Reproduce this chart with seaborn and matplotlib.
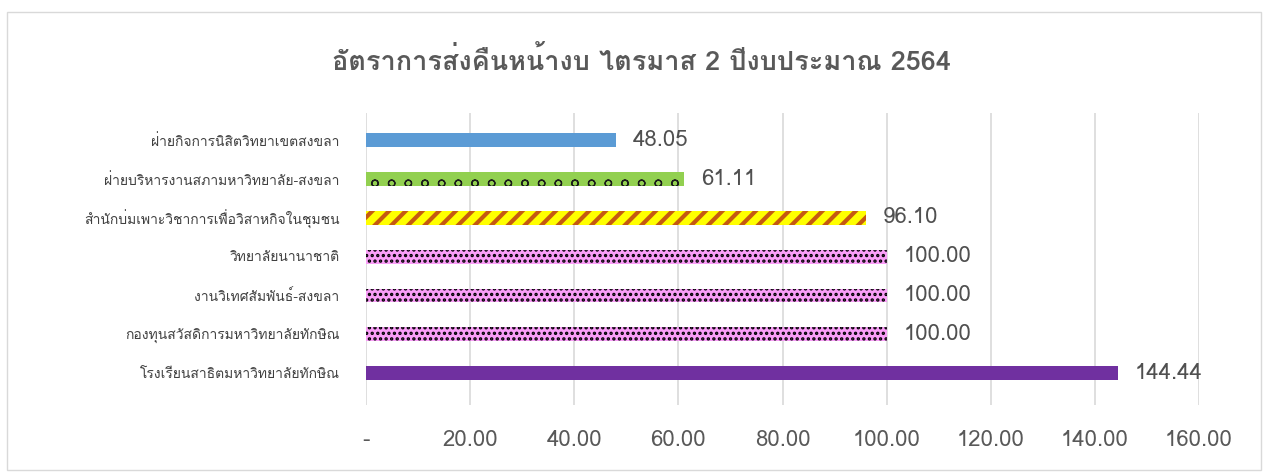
import numpy as np
import pandas as pd
import matplotlib
matplotlib.use('Agg')
import matplotlib.pyplot as plt
import seaborn as sns
from matplotlib import font_manager, ft2font

# Data
categories = ['ฝ่ายกิจการนิสิตวิทยาเขตสงขลา',
              'ฝ่ายบริหารงานสภามหาวิทยาลัย-สงขลา',
              'สำนักบ่มเพาะวิชาการเพื่อวิสาหกิจในชุมชน',
              'วิทยาลัยนานาชาติ',
              'งานวิเทศสัมพันธ์-สงขลา',
              'กองทุนสวัสดิการมหาวิทยาลัยทักษิณ',
              'โรงเรียนสาธิตมหาวิทยาลัยทักษิณ']
values = [48.05, 61.11, 96.10, 100.00, 100.00, 100.00, 144.44]
tick_values = [0, 20, 40, 60, 80, 100, 120, 140, 160]
tick_labels = ['-', '20.00', '40.00', '60.00', '80.00', '100.00', '120.00', '140.00', '160.00']
title = 'อัตราการส่งคืนหน้างบ ไตรมาส 2 ปีงบประมาณ 2564'

# Bar styles (face colour, hatch, hatch colour, hatch width)
faces = ['#5B9BD5', '#92D050', '#FFFF00', '#FA9EF8', '#FA9EF8', '#FA9EF8', '#7030A0']
hatches = ['', 'o', '//', '...', '...', '...', '']
hatch_cols = ['#5B9BD5', '#1A1A1A', '#C55A11', '#000000', '#000000', '#000000', '#7030A0']
hatch_lw = [1, 0.9, 3.0, 1.6, 1.6, 1.6, 1]


def find_thai_font():
    for f in font_manager.fontManager.ttflist:
        try:
            if 0x0E01 in ft2font.FT2Font(f.fname).get_charmap():
                return f.name
        except Exception:
            pass
    return None


sns.set_style('white')
thai = find_thai_font()
families = ([thai] if thai else []) + ['DejaVu Sans']
plt.rcParams['font.family'] = families
plt.rcParams['hatch.linewidth'] = 1.6

df = pd.DataFrame({'unit': categories, 'rate': values})

fig = plt.figure(figsize=(12.66, 4.73), dpi=100)
ax = fig.add_axes([366 / 1266, 1 - 405 / 473, 833 / 1266, (405 - 113) / 473])

sns.barplot(data=df, y='unit', x='rate', order=categories, ax=ax,
            width=0.36, orient='h')

for patch, fc, h, hc, lw in zip(ax.patches, faces, hatches, hatch_cols, hatch_lw):
    patch.set_facecolor(fc)
    patch.set_edgecolor(hc)
    patch.set_hatch(h)
    patch.set_linewidth(0)
    try:
        patch.set_hatch_linewidth(lw)
    except AttributeError:
        pass

ax.set_xlim(0, 160)
ax.set_ylim(6.82, -0.7)
ax.set_xticks(tick_values)
ax.set_xticklabels(tick_labels)
ax.grid(axis='x', color='#D9D9D9', linewidth=1.2)
ax.set_axisbelow(True)
for s in ax.spines.values():
    s.set_visible(False)
ax.set_xlabel('')
ax.set_ylabel('')
ax.tick_params(axis='x', length=0, pad=18, labelsize=16, labelcolor='#595959')
ax.tick_params(axis='y', length=0, pad=19, labelsize=10, labelcolor='#404040')

ax.bar_label(ax.containers[0], labels=[f'{v:.2f}' for v in values],
             padding=12, fontsize=16, color='#505050')

fig.text(0.507, 0.873, title, ha='center', va='center', fontsize=19.5,
         fontweight='bold', color='#595959')

# chart border
fig.patches.append(plt.Rectangle((7 / 1266, 3 / 473), 1254 / 1266, 458 / 473,
                                 transform=fig.transFigure, fill=False,
                                 edgecolor='#D9D9D9', linewidth=1))

fig.savefig('out.png', dpi=100)
